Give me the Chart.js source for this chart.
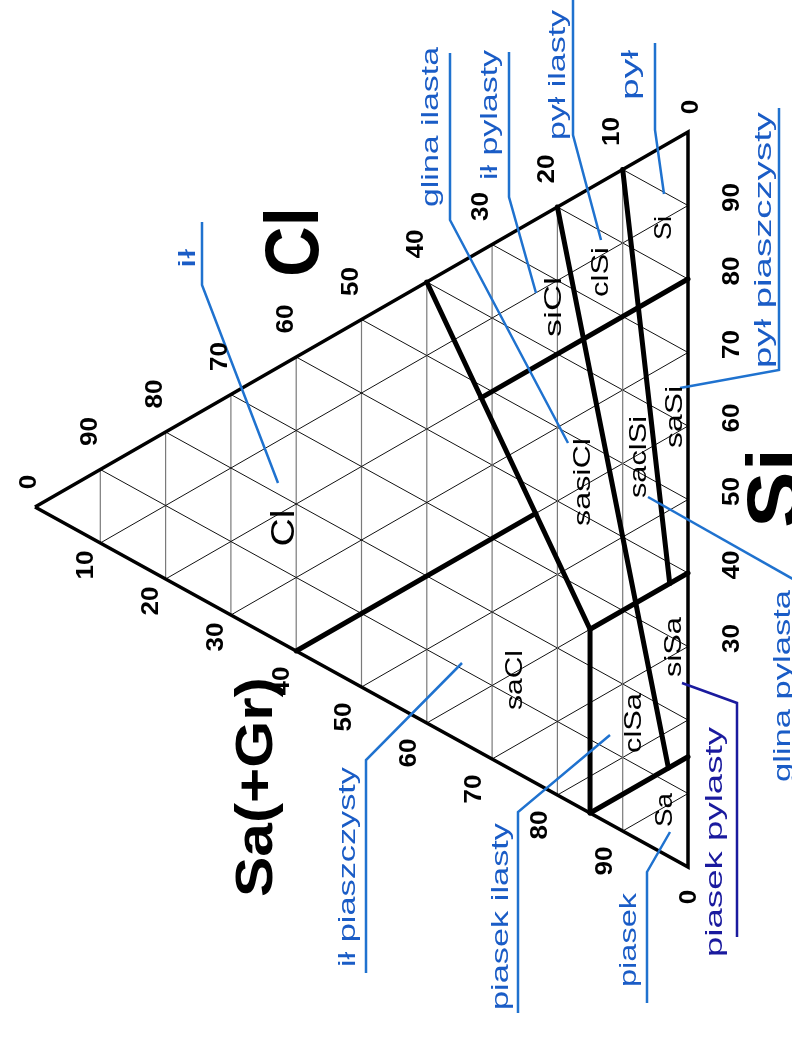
<!DOCTYPE html>
<html>
<head>
<meta charset="utf-8">
<script src="https://cdn.jsdelivr.net/npm/chart.js@4.4.0/dist/chart.umd.min.js"></script>
<style>
  html, body { margin: 0; padding: 0; background: #fff; }
  #wrap { width: 792px; height: 1040px; }
</style>
</head>
<body>
<div id="wrap"><canvas id="tri" width="792" height="1040"></canvas></div>
<script>
// every ternary point is [Cl, Si, Sa] in percent
const gridLevels = [10, 20, 30, 40, 50, 60, 70, 80, 90];
const clTicks = [0, 10, 20, 30, 40, 50, 60, 70, 80, 90];
const saTicks = [0, 10, 20, 30, 40, 50, 60, 70, 80, 90];
const siTicks = [0, 30, 40, 50, 60, 70, 80, 90];

// thick class boundaries (polylines)
const boundaries = [
  [[40, 60, 0], [15, 25, 60], [15, 0, 85]],
  [[15, 25, 60], [0, 40, 60]],
  [[15, 0, 85], [0, 15, 85]],
  [[60, 0, 40], [23.3, 36.7, 40]],
  [[31.7, 48.3, 20], [0, 80, 20]],
  [[20, 80, 0], [3, 12, 85]],
  [[10, 90, 0], [2.8, 37.2, 60]]
];

const classNames = ['Cl', 'saCl', 'clSa', 'siSa', 'Sa', 'sasiCl', 'saclSi', 'saSi', 'siCl', 'clSi', 'Si'];
const polishNames = ['ił', 'glina ilasta', 'ił pylasty', 'pył ilasty', 'pył', 'pył piaszczysty',
  'glina pylasta', 'piasek pylasty', 'piasek', 'piasek ilasty', 'ił piaszczysty'];
const axisNames = ['Cl', 'Si', 'Sa(+Gr)'];

// ---- layout (page units = pixels) ----
const corner = { cl: [35, 507], si: [688, 132], sa: [688, 867] };
const FONT = "'Liberation Sans', Arial, sans-serif";

// centre of each class label
const classLayout = [
  { x: 285, y: 528, size: 33, len: 37 },
  { x: 515, y: 680, size: 24, len: 60 },
  { x: 634, y: 723, size: 24, len: 60 },
  { x: 674, y: 647, size: 24, len: 60 },
  { x: 665, y: 810, size: 24, len: 34 },
  { x: 583, y: 482, size: 24, len: 88 },
  { x: 639, y: 457, size: 24, len: 82 },
  { x: 675, y: 417, size: 24, len: 62 },
  { x: 554, y: 307, size: 24, len: 60 },
  { x: 601, y: 272, size: 24, len: 50 },
  { x: 664, y: 228, size: 24, len: 24 }
];

// blue names: baseline x, text from y0 to y1, underline + leader path
const nameLayout = [
  { bx: 195, y0: 249, y1: 268, path: [[202, 222], [202, 285], [278, 483]] },
  { bx: 438, y0: 47, y1: 207, path: [[450, 53], [450, 220], [568, 443]] },
  { bx: 497, y0: 50, y1: 180, path: [[509, 52], [509, 197], [536, 293]] },
  { bx: 565, y0: 10, y1: 140, path: [[573, -5], [573, 135], [601, 240]] },
  { bx: 638, y0: 50, y1: 100, path: [[655, 43], [655, 130], [664, 194]] },
  { bx: 771, y0: 112, y1: 368, path: [[779, 108], [779, 370], [680, 388]] },
  { bx: 790, y0: 590, y1: 782, path: [[800, 583], [648, 497]] },
  { bx: 722, y0: 727, y1: 957, path: [[737, 937], [737, 703], [682, 683]], navy: true },
  { bx: 636, y0: 893, y1: 987, path: [[647, 1003], [647, 872], [670, 832]] },
  { bx: 508, y0: 823, y1: 1010, path: [[518, 1013], [518, 812], [610, 735]] },
  { bx: 355, y0: 767, y1: 967, path: [[366, 973], [366, 760], [462, 663]] }
];

const axisLayout = [
  { bx: 318, y: 242, size: 76, len: 70 },
  { bx: 800, y: 488, size: 76, len: 80 },
  { bx: 272, y: 787, size: 52, len: 220 }
];

function tern(p) {
  const s = p[0] + p[1] + p[2];
  return {
    x: (p[0] * corner.cl[0] + p[1] * corner.si[0] + p[2] * corner.sa[0]) / s,
    y: (p[0] * corner.cl[1] + p[1] * corner.si[1] + p[2] * corner.sa[1]) / s
  };
}

function lineSet(points, color, width, order, extra) {
  return Object.assign({
    data: points,
    showLine: true,
    pointRadius: 0,
    borderColor: color,
    borderWidth: width,
    fill: false,
    order: order
  }, extra || {});
}

const datasets = [];

// grid
gridLevels.forEach(v => {
  datasets.push(lineSet([tern([v, 100 - v, 0]), tern([v, 0, 100 - v])], '#7a7a7a', 1.2, 4));
  datasets.push(lineSet([tern([100 - v, v, 0]), tern([0, v, 100 - v])], '#111', 1, 4));
  datasets.push(lineSet([tern([100 - v, 0, v]), tern([0, 100 - v, v])], '#111', 1, 4));
});

// outline
datasets.push(lineSet([tern([100, 0, 0]), tern([0, 100, 0]), tern([0, 0, 100]), tern([100, 0, 0])],
  '#000', 3.5, 3, { borderJoinStyle: 'miter' }));

// class boundaries
boundaries.forEach(b => {
  datasets.push(lineSet(b.map(tern), '#000', 5, 2, { borderCapStyle: 'round', borderJoinStyle: 'round' }));
});

// leaders
nameLayout.forEach(n => {
  datasets.push(lineSet(n.path.map(p => ({ x: p[0], y: p[1] })), n.navy ? '#1a1a9e' : '#1f72cf', 2.5, 1));
});

function rotText(ctx, text, x, y, font, color, len, baseline) {
  ctx.save();
  ctx.translate(x, y);
  ctx.rotate(-Math.PI / 2);
  ctx.font = font;
  ctx.fillStyle = color;
  ctx.textAlign = 'center';
  ctx.textBaseline = baseline;
  const w = ctx.measureText(text).width;
  ctx.scale(len ? len / w : 1, 1);
  ctx.fillText(text, 0, 0);
  ctx.restore();
}

const textPlugin = {
  id: 'ternaryText',
  afterDatasetsDraw(chart) {
    const ctx = chart.ctx;
    const sx = chart.scales.x, sy = chart.scales.y;
    const px = (x) => sx.getPixelForValue(x);
    const py = (y) => sy.getPixelForValue(y);
    const tick = (txt, pt, dx, dy) => {
      rotText(ctx, txt, px(pt.x + dx), py(pt.y + dy), 'bold 23px ' + FONT, '#000', txt.length * 14.5, 'middle');
    };

    clTicks.forEach(v => {
      if (v === 0) tick('0', tern([0, 100, 0]), 4, -25);
      else tick(String(v), tern([v, 100 - v, 0]), -10, -38);
    });
    saTicks.forEach(v => {
      if (v === 0) tick('0', tern([100, 0, 0]), -5, -25);
      else tick(String(v), tern([100 - v, 0, v]), v < 50 ? -14 : -17, v < 40 ? 22 : 30);
    });
    siTicks.forEach(v => {
      if (v === 0) tick('0', tern([0, 0, 100]), 2, 30);
      else tick(String(v), tern([0, v, 100 - v]), 45, -8);
    });

    classNames.forEach((name, i) => {
      const l = classLayout[i];
      rotText(ctx, name, px(l.x), py(l.y), l.size + 'px ' + FONT, '#000', l.len, 'middle');
    });

    polishNames.forEach((name, i) => {
      const l = nameLayout[i];
      rotText(ctx, name, px(l.bx), py((l.y0 + l.y1) / 2), '24px ' + FONT,
        l.navy ? '#1a1a9e' : '#1a5cc6', l.y1 - l.y0, 'alphabetic');
    });

    axisNames.forEach((name, i) => {
      const l = axisLayout[i];
      rotText(ctx, name, px(l.bx), py(l.y), 'bold ' + l.size + 'px ' + FONT, '#000', l.len, 'alphabetic');
    });
  }
};

new Chart(document.getElementById('tri').getContext('2d'), {
  type: 'scatter',
  data: { datasets: datasets },
  options: {
    responsive: false,
    animation: false,
    events: [],
    layout: { padding: 0 },
    plugins: {
      legend: { display: false },
      tooltip: { enabled: false }
    },
    scales: {
      x: { type: 'linear', min: 0, max: 792, display: false },
      y: { type: 'linear', min: 0, max: 1040, reverse: true, display: false }
    }
  },
  plugins: [textPlugin]
});
</script>
</body>
</html>
